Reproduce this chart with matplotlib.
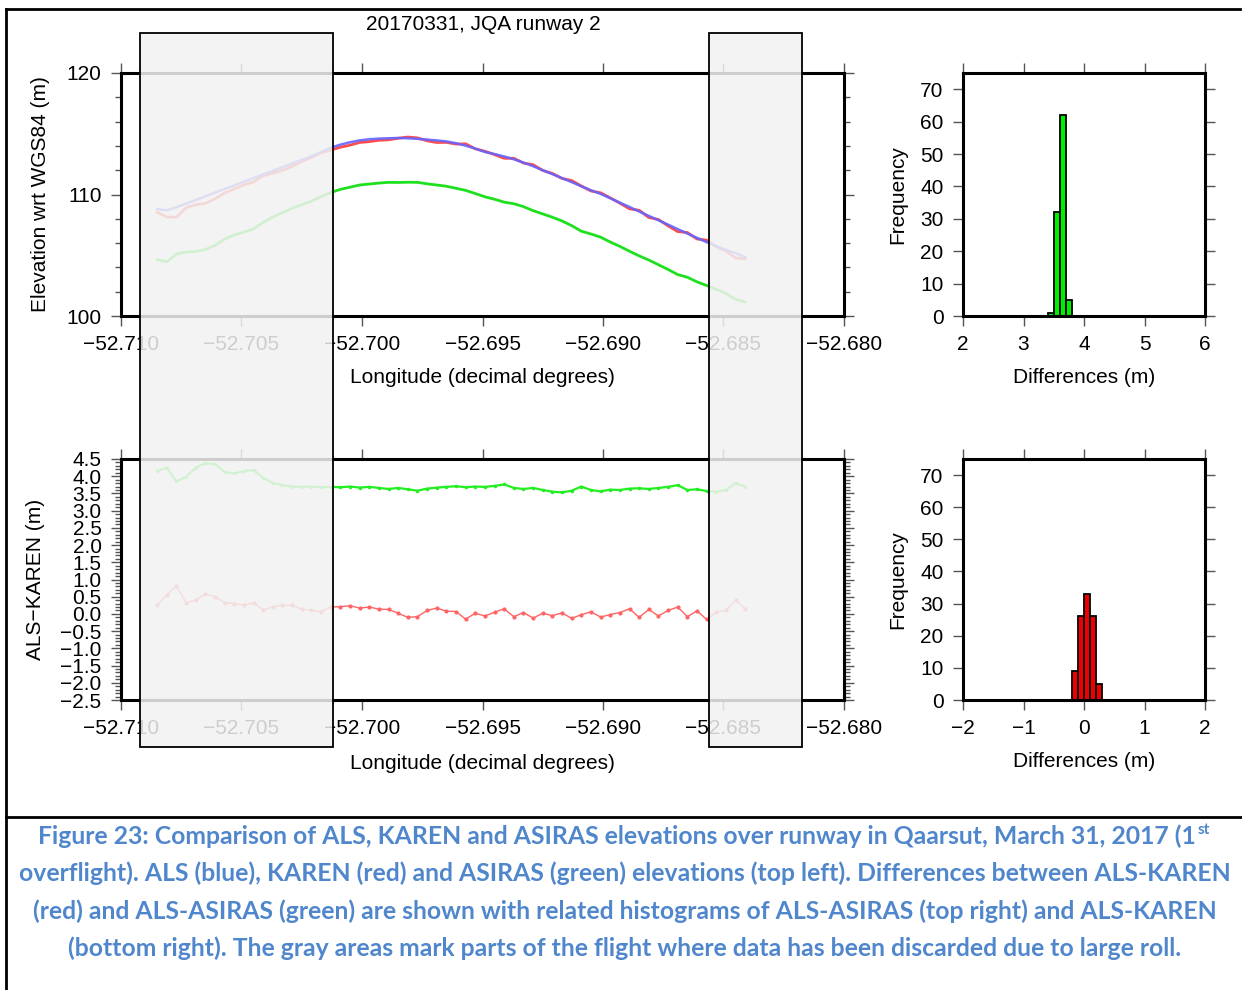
import numpy as np
import matplotlib.pyplot as plt
import matplotlib.transforms as mtransforms
from matplotlib.patches import Rectangle
from matplotlib.lines import Line2D
from matplotlib.ticker import MultipleLocator, FuncFormatter

plt.rcParams['font.family'] = ['Liberation Sans', 'DejaVu Sans']

# along-track longitude of the samples
lon = [-52.7085, -52.7081, -52.7077, -52.7073, -52.7069, -52.7065, -52.7061, -52.7057,
       -52.7053, -52.7049, -52.7045, -52.7041, -52.7037, -52.7033, -52.7029, -52.7025,
       -52.7021, -52.7017, -52.7013, -52.7009, -52.7005, -52.7001, -52.6997, -52.6993,
       -52.6989, -52.6985, -52.6981, -52.6977, -52.6973, -52.6969, -52.6965, -52.6961,
       -52.6957, -52.6953, -52.6949, -52.6945, -52.6941, -52.6937, -52.6933, -52.6929,
       -52.6925, -52.6921, -52.6917, -52.6913, -52.6909, -52.6905, -52.6901, -52.6897,
       -52.6893, -52.6889, -52.6885, -52.6881, -52.6877, -52.6873, -52.6869, -52.6865,
       -52.6861, -52.6857, -52.6853, -52.6849, -52.6845, -52.6841]

# elevations wrt WGS84 (m)
als = [108.80, 108.70, 108.95, 109.25, 109.55, 109.85, 110.15, 110.45, 110.75, 111.05,
       111.35, 111.65, 111.95, 112.25, 112.55, 112.85, 113.15, 113.50, 113.85, 114.10,
       114.30, 114.45, 114.55, 114.60, 114.63, 114.65, 114.63, 114.58, 114.52, 114.45,
       114.37, 114.22, 114.02, 113.78, 113.50, 113.33, 113.13, 112.90, 112.63, 112.33,
       112.00, 111.68, 111.35, 111.02, 110.68, 110.35, 110.05, 109.70, 109.33, 108.97,
       108.60, 108.24, 107.88, 107.52, 107.15, 106.79, 106.43, 106.08, 105.75, 105.45,
       105.18, 104.85]
karen = [108.54, 108.15, 108.13, 108.92, 109.15, 109.27, 109.65, 110.12, 110.45, 110.79,
         111.03, 111.53, 111.75, 111.99, 112.30, 112.71, 113.05, 113.43, 113.65, 113.89,
         114.06, 114.28, 114.35, 114.46, 114.50, 114.63, 114.73, 114.66, 114.42, 114.28,
         114.29, 114.15, 114.17, 113.76, 113.56, 113.28, 112.98, 112.98, 112.59, 112.45,
         111.98, 111.73, 111.32, 111.15, 110.70, 110.29, 110.14, 109.72, 109.29, 108.82,
         108.70, 108.11, 107.94, 107.42, 106.95, 106.87, 106.34, 106.24, 105.70, 105.35,
         104.78, 104.70]
asiras = [104.65, 104.45, 105.10, 105.27, 105.30, 105.47, 105.80, 106.33, 106.67, 106.90,
          107.17, 107.70, 108.15, 108.51, 108.85, 109.16, 109.45, 109.82, 110.16, 110.42,
          110.60, 110.78, 110.86, 110.94, 111.00, 110.99, 111.01, 111.00, 110.88, 110.78,
          110.68, 110.51, 110.34, 110.08, 109.81, 109.61, 109.37, 109.24, 109.00, 108.67,
          108.40, 108.13, 107.82, 107.44, 106.98, 106.75, 106.49, 106.09, 105.73, 105.33,
          104.95, 104.61, 104.22, 103.83, 103.41, 103.19, 102.81, 102.51, 102.20, 101.85,
          101.38, 101.15]

# differences (m)
als_karen = [0.26, 0.55, 0.82, 0.33, 0.40, 0.58, 0.50, 0.33, 0.30, 0.26,
             0.32, 0.12, 0.20, 0.26, 0.25, 0.14, 0.10, 0.07, 0.20, 0.21,
             0.24, 0.17, 0.20, 0.14, 0.13, 0.02, -0.10, -0.08, 0.10, 0.17,
             0.08, 0.07, -0.15, 0.02, -0.06, 0.05, 0.15, -0.08, 0.04, -0.12,
             0.02, -0.05, 0.03, -0.13, -0.02, 0.06, -0.09, -0.02, 0.04, 0.15,
             -0.10, 0.13, -0.06, 0.10, 0.20, -0.08, 0.09, -0.16, 0.05, 0.10,
             0.40, 0.15]
als_asiras = [4.15, 4.25, 3.85, 3.98, 4.25, 4.38, 4.35, 4.12, 4.08, 4.15,
              4.18, 3.95, 3.80, 3.74, 3.70, 3.69, 3.70, 3.68, 3.69, 3.68,
              3.70, 3.67, 3.69, 3.66, 3.63, 3.66, 3.62, 3.58, 3.64, 3.67,
              3.69, 3.71, 3.68, 3.70, 3.69, 3.72, 3.76, 3.66, 3.63, 3.66,
              3.60, 3.55, 3.53, 3.58, 3.70, 3.60, 3.56, 3.61, 3.60, 3.64,
              3.65, 3.63, 3.66, 3.69, 3.74, 3.60, 3.62, 3.57, 3.55, 3.60,
              3.80, 3.70]

# histograms (bin left edges, counts), bin width 0.1 m
asiras_bins = [3.4, 3.5, 3.6, 3.7]
asiras_counts = [1, 32, 62, 5]
karen_bins = [-0.2, -0.1, 0.0, 0.1, 0.2]
karen_counts = [9, 26, 33, 26, 5]

# longitude ranges discarded due to large roll
discard = [(-52.70921, -52.70120), (-52.68560, -52.68174)]

W, H = 1242, 990
fig = plt.figure(figsize=(W / 100, H / 100), dpi=100)


def box(x0, y0, x1, y1):
    return [x0 / W, 1 - y1 / H, (x1 - x0) / W, (y1 - y0) / H]


def minus(fmt):
    def f(v, pos):
        if abs(v) < 1e-9:
            v = 0.0
        return fmt.format(v).replace('-', '\u2212')
    return FuncFormatter(f)


def style(ax):
    for s in ax.spines.values():
        s.set_linewidth(2.2)
    ax.tick_params(which='both', direction='out', top=True, right=True,
                   color='#555555', width=1.0, labelsize=15)
    ax.tick_params(which='major', length=7, pad=7)
    ax.tick_params(which='minor', length=4)


ax1 = fig.add_axes(box(121, 73, 844, 316))
ax2 = fig.add_axes(box(121, 459, 844, 700))
ax3 = fig.add_axes(box(963, 73, 1205, 316))
ax4 = fig.add_axes(box(963, 459, 1205, 700))

# elevations
ax1.plot(lon, asiras, color='#1ee01e', lw=2)
ax1.plot(lon, karen, color='#ff4d4d', lw=2)
ax1.plot(lon, als, color='#6464ff', lw=1.8, alpha=0.9)
ax1.set_xlim(-52.710, -52.680)
ax1.set_ylim(100, 120)
ax1.xaxis.set_major_locator(MultipleLocator(0.005))
ax1.xaxis.set_major_formatter(minus('{:.3f}'))
ax1.yaxis.set_major_locator(MultipleLocator(10))
ax1.yaxis.set_minor_locator(MultipleLocator(2))
ax1.set_ylabel('Elevation wrt WGS84 (m)', fontsize=15)
ax1.set_xlabel('Longitude (decimal degrees)', fontsize=15)
ax1.yaxis.set_label_coords(-0.098, 0.5)
ax1.xaxis.set_label_coords(0.5, -0.215)
style(ax1)

# differences along track
ax2.plot(lon, als_asiras, color='#22ee22', lw=1.6, marker='o', ms=1.5)
ax2.plot(lon, als_karen, color='#ff6464', lw=1.0, marker='o', ms=2)
ax2.set_xlim(-52.710, -52.680)
ax2.set_ylim(-2.5, 4.5)
ax2.xaxis.set_major_locator(MultipleLocator(0.005))
ax2.xaxis.set_major_formatter(minus('{:.3f}'))
ax2.yaxis.set_major_locator(MultipleLocator(0.5))
ax2.yaxis.set_minor_locator(MultipleLocator(0.1))
ax2.yaxis.set_major_formatter(minus('{:.1f}'))
ax2.set_ylabel('ALS\u2212KAREN (m)', fontsize=15)
ax2.set_xlabel('Longitude (decimal degrees)', fontsize=15)
ax2.yaxis.set_label_coords(-0.105, 0.5)
ax2.xaxis.set_label_coords(0.5, -0.225)
style(ax2)

# histograms
ax3.bar(asiras_bins, asiras_counts, width=0.1, align='edge',
        color='#00ee00', edgecolor='black', linewidth=1.3)
ax3.set_xlim(2, 6)
ax4.bar(karen_bins, karen_counts, width=0.1, align='edge',
        color='#ee0000', edgecolor='black', linewidth=1.3)
ax4.set_xlim(-2, 2)
for ax in (ax3, ax4):
    ax.set_ylim(0, 75)
    ax.xaxis.set_major_locator(MultipleLocator(1))
    ax.yaxis.set_major_locator(MultipleLocator(10))
    ax.xaxis.set_major_formatter(minus('{:.0f}'))
    ax.set_ylabel('Frequency', fontsize=15)
    ax.set_xlabel('Differences (m)', fontsize=15)
    ax.yaxis.set_label_coords(-0.23, 0.5)
    ax.xaxis.set_label_coords(0.5, -0.215)
    style(ax)

fig.text(483 / W, 1 - 25 / H, '20170331, JQA runway 2', ha='center', va='center', fontsize=15)

# shaded overlays over the discarded segments
trans = mtransforms.blended_transform_factory(ax1.transData, fig.transFigure)
for x0, x1 in discard:
    fig.add_artist(Rectangle((x0, 1 - 747 / H), x1 - x0, (747 - 33) / H, transform=trans,
                             facecolor=(0.95, 0.95, 0.95, 0.85), edgecolor='black',
                             linewidth=1.3, zorder=10))

# page frame
for xs, ys in [([6, 6], [9, H]), ([6, 1240], [9, 9]), ([6, W], [817, 817])]:
    fig.add_artist(Line2D([x / W for x in xs], [1 - y / H for y in ys],
                          color='black', lw=2, transform=fig.transFigure))

caption = [
    'Figure 23: Comparison of ALS, KAREN and ASIRAS elevations over runway in Qaarsut, March 31, 2017 (1',
    'overflight). ALS (blue), KAREN (red) and ASIRAS (green) elevations (top left). Differences between ALS-KAREN',
    '(red) and ALS-ASIRAS (green) are shown with related histograms of ALS-ASIRAS (top right) and ALS-KAREN',
    '(bottom right). The gray areas mark parts of the flight where data has been discarded due to large roll.',
]
cap_color = '#4f86cc'
cap_kw = dict(fontfamily='Lato', fontweight='bold', fontsize=17.8, color=cap_color,
              ha='center', va='center')
first = None
for i, line in enumerate(caption):
    cx = 617 if i == 0 else 625
    t = fig.text(cx / W, 1 - (836 + 37.5 * i) / H, line, **cap_kw)
    if i == 0:
        first = t

fig.canvas.draw()
bb = first.get_window_extent()
fig.text(bb.x1 / W + 0.001, (bb.y1 + 1) / H, 'st', fontfamily='Lato', fontweight='bold',
         fontsize=11, color=cap_color, ha='left', va='top')

fig.savefig('out.png', dpi=100)
